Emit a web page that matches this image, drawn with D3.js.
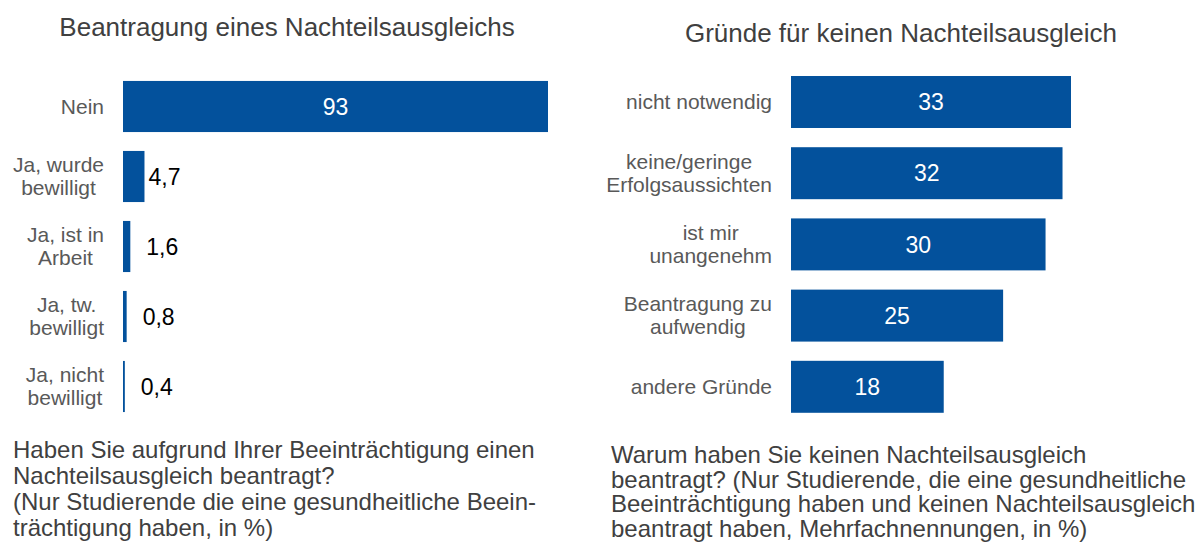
<!DOCTYPE html>
<html lang="de">
<head>
<meta charset="utf-8">
<title>Nachteilsausgleich</title>
<script src="https://d3js.org/d3.v7.min.js"></script>
<style>
  body { margin: 0; background: #fff; }
  svg text { font-family: "Liberation Sans", Arial, sans-serif; }
</style>
</head>
<body>
<div id="chart"></div>
<script>
// left chart data
var leftCats = ["Nein", "Ja, wurde|bewilligt", "Ja, ist in|Arbeit", "Ja, tw.|bewilligt", "Ja, nicht|bewilligt"];
var leftVals = [93, 4.7, 1.6, 0.8, 0.4];
var leftLabels = ["93", "4,7", "1,6", "0,8", "0,4"];
// right chart data
var rightCats = ["nicht notwendig", "keine/geringe|Erfolgsaussichten", "ist mir|unangenehm", "Beantragung zu|aufwendig", "andere Gründe"];
var rightVals = [33, 32, 30, 25, 18];
var rightLabels = ["33", "32", "30", "25", "18"];

var barColor = "#03519c";
var svg = d3.select("#chart").append("svg")
  .attr("width", 1199)
  .attr("height", 546);

// titles
svg.append("text").attr("x", 287).attr("y", 36)
  .attr("text-anchor", "middle").attr("font-size", 26).attr("fill", "#404040")
  .text("Beantragung eines Nachteilsausgleichs");
svg.append("text").attr("x", 901).attr("y", 42)
  .attr("text-anchor", "middle").attr("font-size", 26).attr("fill", "#404040")
  .text("Gründe für keinen Nachteilsausgleich");

function drawLabel(g, y, txt, rightX) {
  var lines = txt.split("|");
  var t = g.append("text").attr("font-size", 21).attr("fill", "#595959");
  var dy0 = -(lines.length - 1) * 11.5;
  lines.forEach(function(l, i) {
    t.append("tspan").attr("y", y + dy0 + i * 23).attr("dy", "0.35em").text(l);
  });
  // block is right aligned, lines centered in the block
  var maxW = 0;
  t.selectAll("tspan").each(function() {
    maxW = Math.max(maxW, this.getComputedTextLength());
  });
  t.attr("text-anchor", "middle");
  t.selectAll("tspan").attr("x", rightX - maxW / 2);
}

function drawChart(cats, vals, labels, xScale, yScale, labelRight, inside) {
  var g = svg.append("g");
  g.selectAll("rect").data(vals).enter().append("rect")
    .attr("x", xScale(0))
    .attr("y", function(d, i) { return yScale(cats[i]); })
    .attr("width", function(d) { return xScale(d) - xScale(0); })
    .attr("height", yScale.bandwidth())
    .attr("fill", barColor);

  cats.forEach(function(c, i) {
    drawLabel(g, yScale(c) + yScale.bandwidth() / 2, c, labelRight);
    var v = vals[i];
    var t = g.append("text")
      .attr("y", yScale(c) + yScale.bandwidth() / 2)
      .attr("dy", "0.36em")
      .attr("font-size", 23)
      .text(labels[i]);
    if (inside(v)) {
      t.attr("x", (xScale(0) + xScale(v)) / 2).attr("text-anchor", "middle").attr("fill", "#fff");
    } else {
      t.attr("x", xScale(v) + (v < 2 ? 16 : 4)).attr("text-anchor", "start").attr("fill", "#000");
    }
  });
}

var xLeft = d3.scaleLinear().domain([0, 93]).range([123, 548]);
var yLeft = d3.scaleBand().domain(leftCats).range([71.5, 421.5]).paddingInner(0.27).paddingOuter(0.135);
drawChart(leftCats, leftVals, leftLabels, xLeft, yLeft, 104, function(v) { return v > 10; });

var xRight = d3.scaleLinear().domain([0, 33]).range([791, 1071]);
var yRight = d3.scaleBand().domain(rightCats).range([66.4, 422.4]).paddingInner(0.27).paddingOuter(0.135);
drawChart(rightCats, rightVals, rightLabels, xRight, yRight, 772, function(v) { return true; });

// footnotes
var noteL = ["Haben Sie aufgrund Ihrer Beeinträchtigung einen", "Nachteilsausgleich beantragt?",
  "(Nur Studierende die eine gesundheitliche Beein-", "trächtigung haben, in %)"];
var noteR = ["Warum haben Sie keinen Nachteilsausgleich", "beantragt? (Nur Studierende, die eine gesundheitliche",
  "Beeinträchtigung haben und keinen Nachteilsausgleich", "beantragt haben, Mehrfachnennungen, in %)"];
svg.append("g").selectAll("text").data(noteL).enter().append("text")
  .attr("x", 13).attr("y", function(d, i) { return 458 + i * 26; })
  .attr("font-size", 24).attr("fill", "#404040").text(function(d) { return d; });
svg.append("g").selectAll("text").data(noteR).enter().append("text")
  .attr("x", 611).attr("y", function(d, i) { return 463 + i * 24.7; })
  .attr("font-size", 24).attr("fill", "#404040").text(function(d) { return d; });
</script>
</body>
</html>
